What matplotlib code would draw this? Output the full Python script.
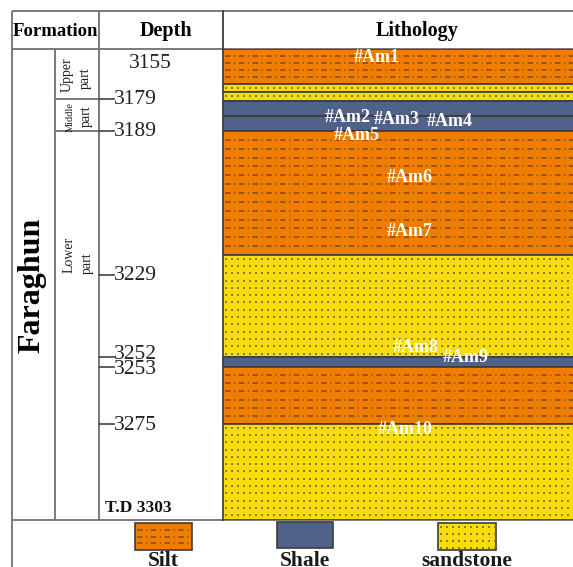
import numpy as np
import matplotlib
matplotlib.use('Agg')
import matplotlib.pyplot as plt
from matplotlib.patches import Rectangle
from matplotlib.transforms import blended_transform_factory

plt.rcParams['font.family'] = ['Liberation Serif', 'DejaVu Serif']

# ---------------- data ----------------
# layers of the lithology column (column units, 0 = top of column, 471 = bottom)
layer_lithology = ['Silt', 'sandstone', 'sandstone', 'Shale', 'Shale',
                   'Silt', 'sandstone', 'Shale', 'Silt', 'sandstone']
layer_top = [0, 35, 43, 52, 67, 82, 206, 308, 318, 375]
layer_bottom = [35, 43, 52, 67, 82, 206, 308, 318, 375, 471]

depth_labels = ['3179', '3189', '3229', '3252', '3253', '3275']
depth_tick_pos = [50, 82, 226, 307.5, 317.5, 375]
depth_label_pos = [50, 82, 226, 305.5, 320.5, 377]
top_depth_label = '3155'
total_depth_label = 'T.D 3303'

sample_names = ['#Am1', '#Am2', '#Am3', '#Am4', '#Am5',
                '#Am6', '#Am7', '#Am8', '#Am9', '#Am10']
sample_x = [154, 125, 174, 227, 134, 187, 187, 193, 243, 182]
sample_y = [8, 68, 70, 72, 87, 128, 183, 299, 308, 380]

part_boundaries = [50, 82]
formation_name = 'Faraghun'
legend_names = ['Silt', 'Shale', 'sandstone']
header_names = ['Formation', 'Depth', 'Lithology']

# ---------------- style ----------------
fill = {'Silt': '#EF7D00', 'Shale': '#50618A', 'sandstone': '#F9DC0C'}
silt_line = '#84480C'
sand_dot = '#8C7A22'
frame_c = '#707070'
edge_c = '#3C3C3C'

W, H = 573, 567
fig = plt.figure(figsize=(W / 100, H / 100), dpi=100)
fr = fig.add_axes([0, 0, 1, 1])
fr.set_xlim(0, W)
fr.set_ylim(H, 0)
fr.axis('off')

col_top, col_bot = 49, 520
col_left, col_right = 223, 575
col = fig.add_axes([col_left / W, (H - col_bot) / H, (col_right - col_left) / W, (col_bot - col_top) / H])
col.set_xlim(0, col_right - col_left)
col.set_ylim(col_bot - col_top, 0)
col.axis('off')
cw = col_right - col_left


def silt_pattern(ax, x0, x1, top, bot, clip, n=None):
    thk = bot - top
    if n is None:
        n = max(1, int(round(thk / 9.5)))
    ys = np.linspace(top, bot, n + 2)[1:-1]
    for y in ys:
        ln, = ax.plot([x0 + 2, x1], [y, y], color=silt_line, lw=1.1,
                      ls=(0, (3.6, 2.3, 0.8, 2.3)), zorder=3)
        ln.set_clip_path(clip)


def sand_pattern(ax, x0, x1, top, bot, clip, step=7.3, xstep=6.0):
    xs = np.arange(x0 + 3, x1, xstep)
    ys = np.arange(top + 3.6, bot, step)
    gx, gy = np.meshgrid(xs, ys)
    sc = ax.scatter(gx.ravel(), gy.ravel(), s=1.0, marker='s', color=sand_dot,
                    linewidths=0, zorder=3)
    sc.set_clip_path(clip)


# layers
thick = [b - t for t, b in zip(layer_top, layer_bottom)]
bars = col.bar(cw / 2, thick, width=cw, bottom=layer_top,
               color=[fill[l] for l in layer_lithology],
               edgecolor=edge_c, linewidth=1.2, zorder=2)
for patch, lith, t, b in zip(bars.patches, layer_lithology, layer_top, layer_bottom):
    if lith == 'Silt':
        silt_pattern(col, 0, cw, t, b, patch)
    elif lith == 'sandstone':
        sand_pattern(col, 0, cw, t, b, patch)

for name, x, y in zip(sample_names, sample_x, sample_y):
    col.text(x, y, name, color='white', fontsize=13, fontweight='bold',
             ha='center', va='center', zorder=5)

# frame lines
lk = dict(color=frame_c, lw=1.3, solid_capstyle='butt')
fr.plot([12, W], [11, 11], **lk)
fr.plot([12, W], [col_top, col_top], **lk)
fr.plot([12, W], [col_bot, col_bot], **lk)
fr.plot([12, 12], [11, H], **lk)
fr.plot([99, 99], [11, col_bot], **lk)
fr.plot([55, 55], [col_top, col_bot], **lk)
fr.plot([col_left, col_left], [11, col_bot], color=edge_c, lw=1.3)

tr = blended_transform_factory(fr.transData, col.transData)
for yb in part_boundaries:
    fr.plot([55, 99], [yb, yb], transform=tr, **lk)
for yt, yl, lab in zip(depth_tick_pos, depth_label_pos, depth_labels):
    fr.plot([99, 114], [yt, yt], transform=tr, color='#505050', lw=1.3)
    fr.text(114, yl, lab, transform=tr, fontsize=15.5, ha='left', va='center', color='#222222')
fr.text(150, 15, top_depth_label, transform=tr, fontsize=15.5, ha='center', va='center', color='#222222')
fr.text(105, 459, total_depth_label, transform=tr, fontsize=12.5, fontweight='bold',
        ha='left', va='center', color='#111111')

# headers
fr.text(55, 31, header_names[0], fontsize=13.5, fontweight='bold', ha='center', va='center')
fr.text(166, 31, header_names[1], fontsize=14.5, fontweight='bold', ha='center', va='center')
fr.text(417, 31, header_names[2], fontsize=14.5, fontweight='bold', ha='center', va='center')

# formation & parts
fr.text(32, 285, formation_name, fontsize=23, fontweight='bold', rotation=90,
        ha='center', va='center')
pk = dict(rotation=90, ha='center', va='center', color='#222222')
fr.text(67, 75, 'Upper', fontsize=10, **pk)
fr.text(85, 78, 'part', fontsize=10, **pk)
fr.text(70, 117, 'Middle', fontsize=7.5, **pk)
fr.text(86, 116, 'part', fontsize=10, **pk)
fr.text(69, 255, 'Lower', fontsize=10, **pk)
fr.text(87, 263, 'part', fontsize=10, **pk)

# legend
leg_boxes = [(135, 192, 523, 550), (277, 333, 522, 548), (438, 496, 523, 550)]
for name, (x0, x1, y0, y1) in zip(legend_names, leg_boxes):
    r = Rectangle((x0, y0), x1 - x0, y1 - y0, facecolor=fill[name],
                  edgecolor=edge_c, lw=1.2, zorder=2)
    fr.add_patch(r)
    if name == 'Silt':
        silt_pattern(fr, x0, x1, y0, y1, r, n=3)
    elif name == 'sandstone':
        sand_pattern(fr, x0, x1, y0, y1, r, step=7.3, xstep=6.0)
    fr.text((x0 + x1) / 2, 566.5, name, fontsize=15.5, fontweight='bold',
            ha='center', va='baseline', color='#1a1a1a')

fig.savefig('out.png', dpi=100)
